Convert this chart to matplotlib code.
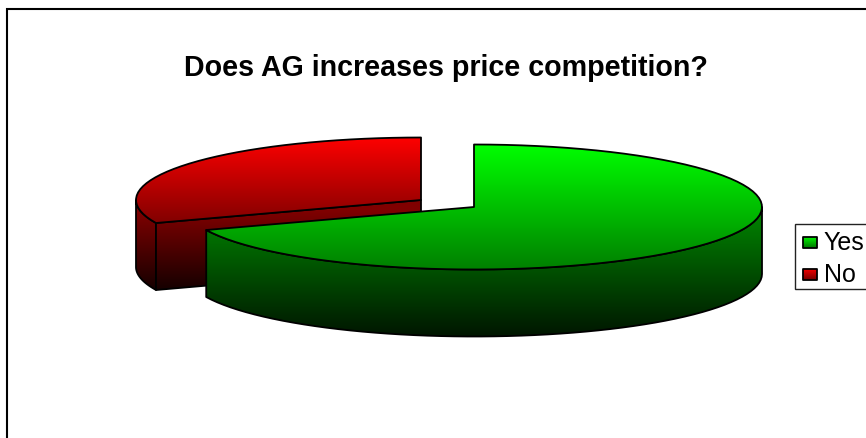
import numpy as np
import matplotlib
matplotlib.use('Agg')
import matplotlib.pyplot as plt
from matplotlib.colors import LinearSegmentedColormap
from matplotlib.patches import Polygon, Rectangle

plt.rcParams['font.family'] = ['Liberation Sans', 'DejaVu Sans']

title = 'Does AG increases price competition?'
labels = ['Yes', 'No']
values = [69, 31]

# pie geometry in pixels
ry, depth = 62.5, 67
rx_yes, rx_no = 288, 285
center_yes = (474, 208)
center_no = (421, 201)


def rim(center, rx, a0, a1, n=40):
    # angles clockwise from the top of the ellipse
    t = np.radians(np.linspace(a0, a1, n))
    return np.c_[center[0] + rx * np.sin(t), center[1] - ry * np.cos(t)]


def grad(ax, verts, y0, y1, c0, c1):
    cmap = LinearSegmentedColormap.from_list('g', [c0, c1])
    # image covers the whole polygon, colour stays flat outside y0..y1
    ya, yb = verts[:, 1].min() - 1, verts[:, 1].max() + 1
    ramp = np.clip((np.linspace(ya, yb, 256) - y0) / (y1 - y0), 0, 1)
    im = ax.imshow(ramp[:, None], cmap=cmap, aspect='auto', vmin=0, vmax=1,
                   extent=(verts[:, 0].min(), verts[:, 0].max(), yb, ya), zorder=ax.zo)
    poly = Polygon(verts, closed=True, fc='none', ec='black', lw=1.3, zorder=ax.zo + 0.5,
                   joinstyle='round')
    ax.add_patch(poly)
    im.set_clip_path(poly)
    ax.zo += 1


fig = plt.figure(figsize=(8.66, 4.39), dpi=100)
ax = fig.add_axes([0, 0, 1, 1])
ax.zo = 2

# chart frame runs off the right and bottom edges
ax.add_patch(Rectangle((7, 9.5), 870, 440, fc='white', ec='black', lw=1.5, zorder=1))

share_yes = 360 * values[0] / sum(values)

# No slice, sits behind and to the left
top_no = rim(center_no, rx_no, share_yes, 360)
wall_no = rim(center_no, rx_no, share_yes, 270)
wall_no = np.vstack([wall_no, wall_no[::-1] + [0, depth]])
corner = top_no[0]
cut_no = np.array([center_no, corner, corner + [0, depth], np.add(center_no, [0, depth])])
grad(ax, wall_no, 212, 292, '#800000', '#140000')
grad(ax, cut_no, 212, 292, '#800000', '#140000')
grad(ax, np.vstack([top_no, center_no]), 138, 225, '#ff0000', '#800000')

# Yes slice in front
center_yes_arr = np.array(center_yes, float)
top_yes = rim(center_yes, rx_yes, 0, share_yes, n=80)
wall_yes = rim(center_yes, rx_yes, 90, share_yes, n=60)
wall_yes = np.vstack([wall_yes, wall_yes[::-1] + [0, depth]])
grad(ax, wall_yes, 218, 340, '#008000', '#001400')
grad(ax, np.vstack([center_yes_arr, top_yes]), 145, 271, '#00ff00', '#008000')

ax.text(445.5, 68.5, title, ha='center', va='center', fontsize=20.6, fontweight='bold', zorder=20)

# legend box with gradient swatches
ax.add_patch(Rectangle((794.5, 225), 80, 65, fc='white', ec='#222222', lw=1, zorder=20))
swatches = [('#00ff00', '#008000'), ('#ff0000', '#800000')]
for lab, (c0, c1), y in zip(labels, swatches, [243, 275]):
    ax.zo = 21
    sw = np.array([[803, y - 5.5], [816.5, y - 5.5], [816.5, y + 5.5], [803, y + 5.5]], float)
    grad(ax, sw, y - 5.5, y + 5.5, c0, c1)
    ax.text(823.5, y, lab, ha='left', va='center', fontsize=18, zorder=22)

ax.set_xlim(0, 866)
ax.set_ylim(439, 0)
ax.axis('off')

fig.savefig('out.png', dpi=100)
